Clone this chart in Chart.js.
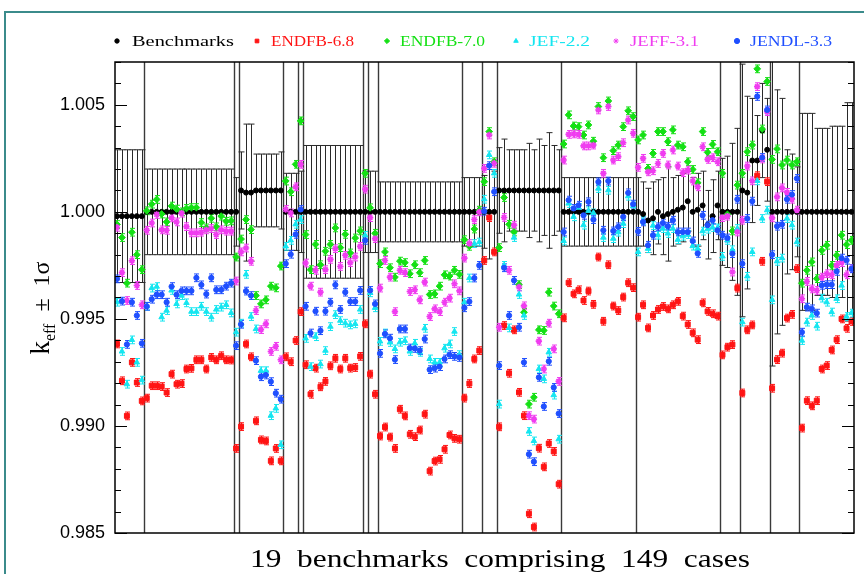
<!DOCTYPE html>
<html>
<head>
<meta charset="utf-8">
<script src="https://cdn.jsdelivr.net/npm/chart.js@4.4.1/dist/chart.umd.min.js"></script>
<style>
  html, body { margin: 0; padding: 0; background: #fff; }
  #wrap { position: relative; width: 864px; height: 574px; }
  #frame { position: absolute; left: 4px; top: 11px; right: 0; bottom: 0;
           border-left: 2px solid #3b8b8b; border-top: 2px solid #3b8b8b; }
  canvas { position: absolute; left: 0; top: 0; }
</style>
</head>
<body>
<div id="wrap"><div id="frame"></div><canvas id="chart" width="864" height="574"></canvas></div>
<script>
// number of cases in each of the 19 benchmarks
const groupSizes = [6, 18, 1, 9, 3, 1, 12, 1, 2, 17, 4, 3, 13, 15, 17, 4, 6, 6, 11];

const seriesNames = ["Benchmarks", "ENDFB-6.8", "ENDFB-7.0", "JEF-2.2", "JEFF-3.1", "JENDL-3.3"];
const seriesColors = ["#000000", "#ff1414", "#14e014", "#14e6f0", "#f03cf0", "#1f4fff"];
const pointStyles = ["circle", "rect", "rectRot", "triangle", "star", "circle"];
const pointSizes = [2.5, 3.5, 3.4, 3.2, 3.2, 2.6];

const yTicks = [0.985, 0.990, 0.995, 1.000, 1.005];

// benchmark k-eff and its 1 sigma
const benchK = [
  0.9998, 0.9998, 0.9998, 0.9998, 0.9998, 0.9998,
  1.0000, 1.0000, 1.0000, 1.0000, 1.0000, 1.0000, 1.0000, 1.0000, 1.0000, 1.0000, 1.0000, 1.0000, 1.0000, 1.0000, 1.0000, 1.0000, 1.0000, 1.0000,
  1.0000,
  1.0010, 1.0009, 1.0009, 1.0010, 1.0010, 1.0010, 1.0010, 1.0010, 1.0010,
  1.0000, 1.0000, 1.0000,
  1.0000,
  1.0000, 1.0000, 1.0000, 1.0000, 1.0000, 1.0000, 1.0000, 1.0000, 1.0000, 1.0000, 1.0000, 1.0000,
  1.0000,
  1.0000, 1.0000,
  1.0000, 1.0000, 1.0000, 1.0000, 1.0000, 1.0000, 1.0000, 1.0000, 1.0000, 1.0000, 1.0000, 1.0000, 1.0000, 1.0000, 1.0000, 1.0000, 1.0000,
  1.0000, 1.0000, 1.0000, 1.0000,
  1.0000, 1.0000, 1.0000,
  1.0010, 1.0010, 1.0010, 1.0010, 1.0010, 1.0010, 1.0010, 1.0010, 1.0010, 1.0010, 1.0010, 1.0010, 1.0010,
  1.0000, 1.0000, 1.0000, 1.0000, 1.0000, 1.0000, 1.0000, 1.0000, 1.0000, 1.0000, 1.0000, 1.0000, 1.0000, 1.0000, 1.0000,
  1.0000, 0.9999, 0.9996, 0.9997, 1.0000, 0.9998, 0.9999, 1.0000, 1.0001, 1.0002, 1.0005, 1.0000, 1.0001, 1.0003, 0.9994, 0.9998, 1.0003,
  1.0000, 1.0000, 1.0000, 1.0000,
  1.0010, 1.0009, 1.0024, 1.0024, 1.0038, 1.0029,
  1.0000, 1.0000, 1.0000, 1.0000, 1.0000, 1.0000,
  1.0000, 1.0000, 1.0000, 1.0000, 1.0000, 1.0000, 1.0000, 1.0000, 1.0000, 1.0000, 1.0000
];
const benchErr = [
  0.0031, 0.0031, 0.0031, 0.0031, 0.0031, 0.0031,
  0.0020, 0.0020, 0.0020, 0.0020, 0.0020, 0.0020, 0.0020, 0.0020, 0.0020, 0.0020, 0.0020, 0.0020, 0.0020, 0.0020, 0.0020, 0.0020, 0.0020, 0.0020,
  0.0016,
  0.0018, 0.0032, 0.0032, 0.0017, 0.0017, 0.0017, 0.0017, 0.0017, 0.0018,
  0.0018, 0.0018, 0.0018,
  0.0019,
  0.0031, 0.0031, 0.0031, 0.0031, 0.0031, 0.0031, 0.0031, 0.0031, 0.0031, 0.0031, 0.0031, 0.0031,
  0.0019,
  0.0019, 0.0019,
  0.0014, 0.0014, 0.0014, 0.0014, 0.0014, 0.0014, 0.0014, 0.0014, 0.0014, 0.0014, 0.0014, 0.0014, 0.0014, 0.0014, 0.0014, 0.0014, 0.0014,
  0.0016, 0.0016, 0.0016, 0.0016,
  0.0017, 0.0022, 0.0019,
  0.0020, 0.0024, 0.0019, 0.0019, 0.0019, 0.0019, 0.0022, 0.0019, 0.0024, 0.0021, 0.0027, 0.0021, 0.0019,
  0.0016, 0.0016, 0.0016, 0.0016, 0.0016, 0.0016, 0.0016, 0.0016, 0.0016, 0.0016, 0.0016, 0.0016, 0.0016, 0.0016, 0.0016,
  0.0016, 0.0015, 0.0015, 0.0017, 0.0015, 0.0018, 0.0022, 0.0016, 0.0016, 0.0016, 0.0014, 0.0016, 0.0017, 0.0016, 0.0016, 0.0017, 0.0016,
  0.0025, 0.0026, 0.0032, 0.0039,
  0.0059, 0.0045, 0.0029, 0.0021, 0.0022, 0.0024,
  0.0072, 0.0057, 0.0053, 0.0029, 0.0027, 0.0021,
  0.0046, 0.0046, 0.0046, 0.0039, 0.0039, 0.0039, 0.0040, 0.0040, 0.0040, 0.0051, 0.0051
];

// calculated k-eff per library, cases 1..149
const endfb68 = [
  0.99383, 0.99211, 0.99047, 0.99297, 0.99203, 0.99117, 0.99130, 0.99188, 0.99188, 0.99184,
  0.99156, 0.99242, 0.99195, 0.99198, 0.99266, 0.99269, 0.99309, 0.99309, 0.99266, 0.99320,
  0.99309, 0.99328, 0.99309, 0.99308, 0.98895, 0.98997, 0.99383, 0.99323, 0.99024, 0.98935,
  0.98930, 0.98837, 0.98895, 0.98837, 0.99323, 0.99300, 0.99399, 0.99534, 0.99286, 0.99148,
  0.99270, 0.99183, 0.99208, 0.99281, 0.99316, 0.99266, 0.99316, 0.99270, 0.99273, 0.99325,
  0.99477, 0.99242, 0.99148, 0.98953, 0.98995, 0.98948, 0.98895, 0.99078, 0.99047, 0.98961,
  0.98950, 0.98981, 0.99055, 0.98789, 0.98836, 0.98844, 0.98891, 0.98958, 0.98942, 0.98938,
  0.99130, 0.99198, 0.99313, 0.99352, 0.99773, 0.99973, 0.99813, 0.98996, 0.99469, 0.99246,
  0.99449, 0.99157, 0.99048, 0.98590, 0.98528, 0.98896, 0.98809, 0.98918, 0.98881, 0.98728,
  0.99505, 0.99669, 0.99617, 0.99636, 0.99586, 0.99630, 0.99568, 0.99789, 0.99489, 0.99753,
  0.99560, 0.99539, 0.99602, 0.99669, 0.99646, 0.99508, 0.99566, 0.99458, 0.99516, 0.99544,
  0.99558, 0.99547, 0.99566, 0.99582, 0.99513, 0.99474, 0.99435, 0.99403, 0.99575, 0.99535,
  0.99524, 0.99513, 0.99332, 0.99368, 0.99380, 0.99644, 0.99154, 0.99449, 0.99472, 1.00169,
  0.99769, 1.00141, 0.99176, 0.99310, 0.99340, 0.99504, 0.99521, 0.99735, 0.98990, 0.99118,
  0.99094, 0.99118, 0.99266, 0.99282, 0.99355, 0.99403, 0.99500, 0.99456, 0.99488
];
const endfb70 = [
  0.99941, 0.99880, 0.99667, 0.99905, 0.99800, 0.99730, 1.00005, 1.00036, 1.00058, 0.99990,
  0.99953, 1.00027, 1.00013, 1.00000, 1.00016, 1.00020, 1.00020, 0.99950, 0.99925, 0.99970,
  0.99930, 0.99980, 0.99956, 0.99958, 0.99789, 0.99873, 0.99964, 0.99917, 0.99609, 0.99570,
  0.99589, 0.99653, 0.99645, 0.99747, 1.00144, 1.00094, 1.00222, 1.00425, 0.99894, 0.99730,
  0.99848, 0.99753, 0.99816, 0.99848, 0.99925, 0.99833, 0.99895, 0.99808, 0.99878, 0.99911,
  1.00180, 1.00019, 0.99900, 0.99758, 0.99813, 0.99739, 0.99695, 0.99770, 0.99763, 0.99711,
  0.99753, 0.99716, 0.99773, 0.99614, 0.99617, 0.99653, 0.99706, 0.99700, 0.99727, 0.99708,
  0.99870, 0.99839, 0.99920, 1.00008, 1.00141, 1.00375, 1.00234, 0.99833, 1.00067, 0.99942,
  0.99906, 0.99660, 0.99531, 0.99102, 0.99134, 0.99449, 0.99446, 0.99625, 0.99560, 0.99524,
  1.00317, 1.00453, 1.00401, 1.00398, 1.00359, 1.00406, 1.00330, 1.00492, 1.00253, 1.00518,
  1.00286, 1.00312, 1.00398, 1.00472, 1.00445, 1.00336, 1.00359, 1.00203, 1.00273, 1.00375,
  1.00375, 1.00328, 1.00383, 1.00312, 1.00304, 1.00234, 1.00198, 1.00136, 1.00375, 1.00278,
  1.00315, 1.00281, 1.00180, 0.99988, 0.99911, 1.00125, 1.00180, 1.00281, 1.00312, 1.00668,
  1.00387, 1.00609, 1.00245, 1.00294, 1.00219, 1.00242, 1.00219, 1.00234, 0.99667, 0.99727,
  0.99766, 0.99688, 0.99820, 0.99844, 0.99750, 0.99797, 0.99891, 0.99847, 0.99867
];
const jef22 = [
  0.99578, 0.99348, 0.99195, 0.99402, 0.99297, 0.99214, 0.99559, 0.99644, 0.99651, 0.99508,
  0.99539, 0.99633, 0.99570, 0.99609, 0.99575, 0.99534, 0.99534, 0.99559, 0.99534, 0.99508,
  0.99544, 0.99555, 0.99566, 0.99528, 0.99438, 0.99480, 0.99708, 0.99511, 0.99453, 0.99258,
  0.99258, 0.99048, 0.99082, 0.98912, 0.99839, 0.99867, 0.99942, 0.99964, 0.99409, 0.99277,
  0.99417, 0.99289, 0.99352, 0.99464, 0.99520, 0.99492, 0.99480, 0.99472, 0.99477, 0.99544,
  0.99890, 0.99622, 0.99552, 0.99395, 0.99434, 0.99390, 0.99360, 0.99391, 0.99398, 0.99348,
  0.99386, 0.99344, 0.99456, 0.99313, 0.99297, 0.99297, 0.99363, 0.99383, 0.99441, 0.99333,
  0.99578, 0.99691, 0.99852, 0.99859, 1.00059, 1.00266, 1.00180, 0.99102, 0.99750, 0.99458,
  0.99880, 0.99614, 0.99516, 0.98974, 0.98930, 0.99266, 0.99220, 0.99344, 0.99144, 0.98938,
  0.99864, 1.00039, 0.99977, 1.00020, 0.99938, 1.00005, 0.99995, 1.00109, 0.99880, 1.00101,
  0.99875, 0.99905, 0.99945, 1.00073, 1.00027, 0.99813, 0.99960, 0.99828, 0.99936, 0.99891,
  0.99922, 0.99899, 0.99922, 0.99870, 0.99886, 0.99894, 0.99840, 0.99828, 0.99910, 0.99919,
  0.99927, 0.99925, 0.99792, 0.99867, 0.99823, 0.99922, 0.99485, 0.99699, 0.99813, 1.00145,
  0.99969, 1.00008, 0.99589, 0.99769, 0.99784, 0.99969, 0.99938, 0.99859, 0.99399, 0.99485,
  0.99516, 0.99466, 0.99597, 0.99578, 0.99532, 0.99594, 0.99656, 0.99511, 0.99527
];
const jeff31 = [
  0.99928, 0.99716, 0.99586, 0.99772, 0.99656, 0.99566, 0.99914, 0.99948, 0.99988, 0.99916,
  0.99914, 0.99972, 0.99953, 0.99994, 0.99931, 0.99902, 0.99902, 0.99905, 0.99916, 0.99922,
  0.99894, 0.99916, 0.99910, 0.99910, 0.99677, 0.99813, 0.99831, 0.99769, 0.99539, 0.99450,
  0.99477, 0.99348, 0.99372, 0.99309, 1.00011, 0.99995, 1.00117, 1.00222, 0.99761, 0.99653,
  0.99727, 0.99625, 0.99730, 0.99778, 0.99828, 0.99745, 0.99797, 0.99763, 0.99789, 0.99839,
  1.00106, 0.99973, 0.99875, 0.99644, 0.99773, 0.99695, 0.99534, 0.99727, 0.99716, 0.99628,
  0.99636, 0.99589, 0.99672, 0.99511, 0.99547, 0.99534, 0.99578, 0.99597, 0.99664, 0.99631,
  0.99784, 0.99852, 0.99964, 1.00000, 1.00203, 1.00359, 1.00227, 0.99461, 0.99974, 0.99727,
  0.99938, 0.99649, 0.99561, 0.99048, 0.99032, 0.99396, 0.99266, 0.99480, 0.99360, 0.99208,
  1.00242, 1.00362, 1.00364, 1.00362, 1.00308, 1.00308, 1.00312, 1.00476, 1.00180, 1.00492,
  1.00242, 1.00258, 1.00323, 1.00429, 1.00367, 1.00208, 1.00250, 1.00187, 1.00192, 1.00226,
  1.00273, 1.00219, 1.00289, 1.00214, 1.00183, 1.00195, 1.00144, 1.00117, 1.00304, 1.00245,
  1.00253, 1.00234, 0.99973, 0.99980, 0.99719, 0.99906, 0.99961, 1.00214, 1.00145, 1.00585,
  1.00247, 1.00468, 0.99972, 1.00070, 1.00112, 1.00091, 1.00059, 1.00008, 0.99594, 0.99675,
  0.99640, 0.99633, 0.99695, 0.99711, 0.99706, 0.99750, 0.99763, 0.99706, 0.99735
];
const jendl33 = [
  0.99687, 0.99583, 0.99381, 0.99578, 0.99516, 0.99386, 0.99559, 0.99592, 0.99613, 0.99613,
  0.99578, 0.99651, 0.99613, 0.99631, 0.99631, 0.99631, 0.99692, 0.99659, 0.99616, 0.99692,
  0.99636, 0.99636, 0.99653, 0.99667, 0.99375, 0.99475, 0.99630, 0.99609, 0.99305, 0.99230,
  0.99238, 0.99207, 0.99153, 0.99125, 0.99758, 0.99802, 0.99895, 1.00011, 0.99559, 0.99434,
  0.99536, 0.99445, 0.99536, 0.99578, 0.99659, 0.99544, 0.99625, 0.99581, 0.99581, 0.99633,
  0.99867, 0.99633, 0.99570, 0.99339, 0.99430, 0.99410, 0.99310, 0.99453, 0.99453, 0.99364,
  0.99362, 0.99352, 0.99406, 0.99263, 0.99270, 0.99277, 0.99313, 0.99333, 0.99325, 0.99320,
  0.99552, 0.99581, 0.99691, 0.99750, 1.00003, 1.00216, 1.00094, 0.99282, 0.99739, 0.99516,
  0.99680, 0.99461, 0.99297, 0.98868, 0.98833, 0.99227, 0.99091, 0.99302, 0.99180, 0.99058,
  0.99906, 1.00055, 1.00016, 1.00031, 0.99984, 1.00047, 0.99964, 1.00140, 0.99914, 1.00144,
  0.99911, 0.99930, 0.99977, 1.00089, 1.00036, 0.99909, 0.99953, 0.99844, 0.99891, 0.99930,
  0.99948, 0.99933, 0.99961, 0.99906, 0.99906, 0.99906, 0.99864, 0.99806, 0.99984, 0.99938,
  0.99961, 0.99914, 0.99891, 0.99878, 0.99805, 1.00059, 0.99758, 0.99969, 1.00050, 1.00539,
  1.00254, 1.00476, 0.99800, 0.99933, 0.99942, 1.00059, 1.00081, 1.00156, 0.99438, 0.99555,
  0.99547, 0.99527, 0.99657, 0.99660, 0.99660, 0.99722, 0.99784, 0.99774, 0.99734
];
// statistical uncertainty of the calculations
const calcErr = 0.00018;

const columns = [benchK, endfb68, endfb70, jef22, jeff31, jendl33];
const errors = [benchErr, null, null, null, null, null];

const isMajor = v => Math.abs(Math.round(v * 1000)) % 5 === 0;

const datasets = columns.map((col, s) => ({
  label: seriesNames[s],
  data: col.map((v, i) => ({ x: i + 1, y: v })),
  showLine: false,
  pointStyle: pointStyles[s],
  pointRadius: pointSizes[s],
  pointBackgroundColor: seriesColors[s],
  pointBorderColor: seriesColors[s],
  pointBorderWidth: s === 4 ? 1.6 : 1,
  order: 5 - s
}));

function drawBar(ctx, ys, px, lo, hi, cap) {
  const y1 = ys.getPixelForValue(lo), y2 = ys.getPixelForValue(hi);
  ctx.beginPath();
  ctx.moveTo(px, y1); ctx.lineTo(px, y2);
  ctx.moveTo(px - cap, y1); ctx.lineTo(px + cap, y1);
  ctx.moveTo(px - cap, y2); ctx.lineTo(px + cap, y2);
  ctx.stroke();
}

// group separators and error bars, under the markers
const barsPlugin = {
  id: 'bars',
  beforeDatasetsDraw(chart) {
    const { ctx, chartArea: a, scales: { x: xs, y: ys } } = chart;
    ctx.save();
    ctx.beginPath();
    ctx.rect(a.left, a.top, a.right - a.left, a.bottom - a.top);
    ctx.clip();

    ctx.strokeStyle = '#3a3a3a';
    ctx.lineWidth = 1.4;
    let n = 0;
    groupSizes.slice(0, -1).forEach(g => {
      n += g;
      const px = Math.round(xs.getPixelForValue(n + 0.5)) + 0.5;
      ctx.beginPath();
      ctx.moveTo(px, a.top); ctx.lineTo(px, a.bottom);
      ctx.stroke();
    });

    ctx.lineWidth = 1;
    columns.forEach((col, s) => {
      ctx.strokeStyle = s === 0 ? '#2a2a2a' : seriesColors[s];
      col.forEach((v, i) => {
        const e = errors[s] ? errors[s][i] : calcErr;
        const px = Math.round(xs.getPixelForValue(i + 1)) + 0.5;
        drawBar(ctx, ys, px, v - e, v + e, s === 0 ? 3 : 2.5);
      });
    });
    ctx.restore();
  }
};

// plot box with inward ticks on both sides
const boxPlugin = {
  id: 'box',
  afterDatasetsDraw(chart) {
    const { ctx, chartArea: a, scales: { y: ys } } = chart;
    ctx.save();
    ctx.strokeStyle = '#000';
    ctx.lineWidth = 1.5;
    ctx.strokeRect(a.left, a.top, a.right - a.left, a.bottom - a.top);
    ctx.lineWidth = 1.2;
    ys.ticks.forEach(t => {
      const py = Math.round(ys.getPixelForValue(t.value)) + 0.5;
      const len = isMajor(t.value) ? 12 : 6;
      ctx.beginPath();
      ctx.moveTo(a.left, py); ctx.lineTo(a.left + len, py);
      ctx.moveTo(a.right, py); ctx.lineTo(a.right - len, py);
      ctx.stroke();
    });
    ctx.restore();
  }
};

// legend row marker / label positions
const legendMarkX = [117, 257, 387, 516, 616, 737];
const legendTextX = [132, 271, 400, 529, 630, 750];
const legendTextW = [102, 83, 85, 61, 69, 82];

function wideText(ctx, str, x, y, w) {
  const m = ctx.measureText(str).width;
  ctx.save();
  ctx.translate(x, y);
  ctx.scale(w / m, 1);
  ctx.fillText(str, 0, 0);
  ctx.restore();
}

const textPlugin = {
  id: 'texts',
  afterDraw(chart) {
    const ctx = chart.ctx;
    ctx.save();
    ctx.textBaseline = 'alphabetic';
    ctx.textAlign = 'left';

    // legend
    ctx.font = '15px "Liberation Serif"';
    seriesNames.forEach((name, s) => {
      ctx.fillStyle = seriesColors[s];
      ctx.strokeStyle = seriesColors[s];
      Chart.helpers.drawPoint(ctx, { pointStyle: pointStyles[s], radius: s === 0 ? 2.2 : 2.6, borderWidth: 1, rotation: 0 }, legendMarkX[s], 41);
      wideText(ctx, name, legendTextX[s], 46, legendTextW[s]);
    });

    // x axis title
    ctx.fillStyle = '#000';
    ctx.font = '25px "Liberation Serif"';
    const xt = '19  benchmarks  comprising  149  cases';
    const xw = 500;
    wideText(ctx, xt, 500 - xw / 2, 567, xw);

    // y axis title: k_eff +- 1 sigma
    ctx.save();
    ctx.translate(49, 308);
    ctx.rotate(-Math.PI / 2);
    const parts = [
      { t: 'k', f: '27px "Liberation Serif"', dy: 0 },
      { t: 'eff', f: '16px "Liberation Serif"', dy: 6 },
      { t: '  \u00b1  1\u03c3', f: '24px "Liberation Serif"', dy: 0 }
    ];
    let total = 0;
    parts.forEach(p => { ctx.font = p.f; p.w = ctx.measureText(p.t).width; total += p.w; });
    let cx = -total / 2;
    parts.forEach(p => {
      ctx.font = p.f;
      ctx.fillText(p.t, cx, p.dy);
      cx += p.w;
    });
    ctx.restore();

    ctx.restore();
  }
};

new Chart(document.getElementById('chart'), {
  type: 'scatter',
  data: { datasets },
  options: {
    responsive: false,
    animation: false,
    devicePixelRatio: 1,
    layout: { padding: { left: 0, right: 10, top: 62, bottom: 41 } },
    plugins: { legend: { display: false }, tooltip: { enabled: false } },
    scales: {
      x: { type: 'linear', min: 0.6, max: 149.5, display: false },
      y: {
        min: 0.985,
        max: 1.007,
        afterFit: s => { s.width = 115; },
        grid: { display: false, drawTicks: false },
        border: { display: false },
        ticks: {
          stepSize: 0.001,
          autoSkip: false,
          maxTicksLimit: 40,
          padding: 10,
          color: '#000',
          font: { family: '"Liberation Sans", Arial, sans-serif', size: 18 },
          callback: v => yTicks.some(t => Math.abs(t - v) < 1e-7) ? v.toFixed(3) : ''
        }
      }
    }
  },
  plugins: [barsPlugin, boxPlugin, textPlugin]
});
</script>
</body>
</html>
